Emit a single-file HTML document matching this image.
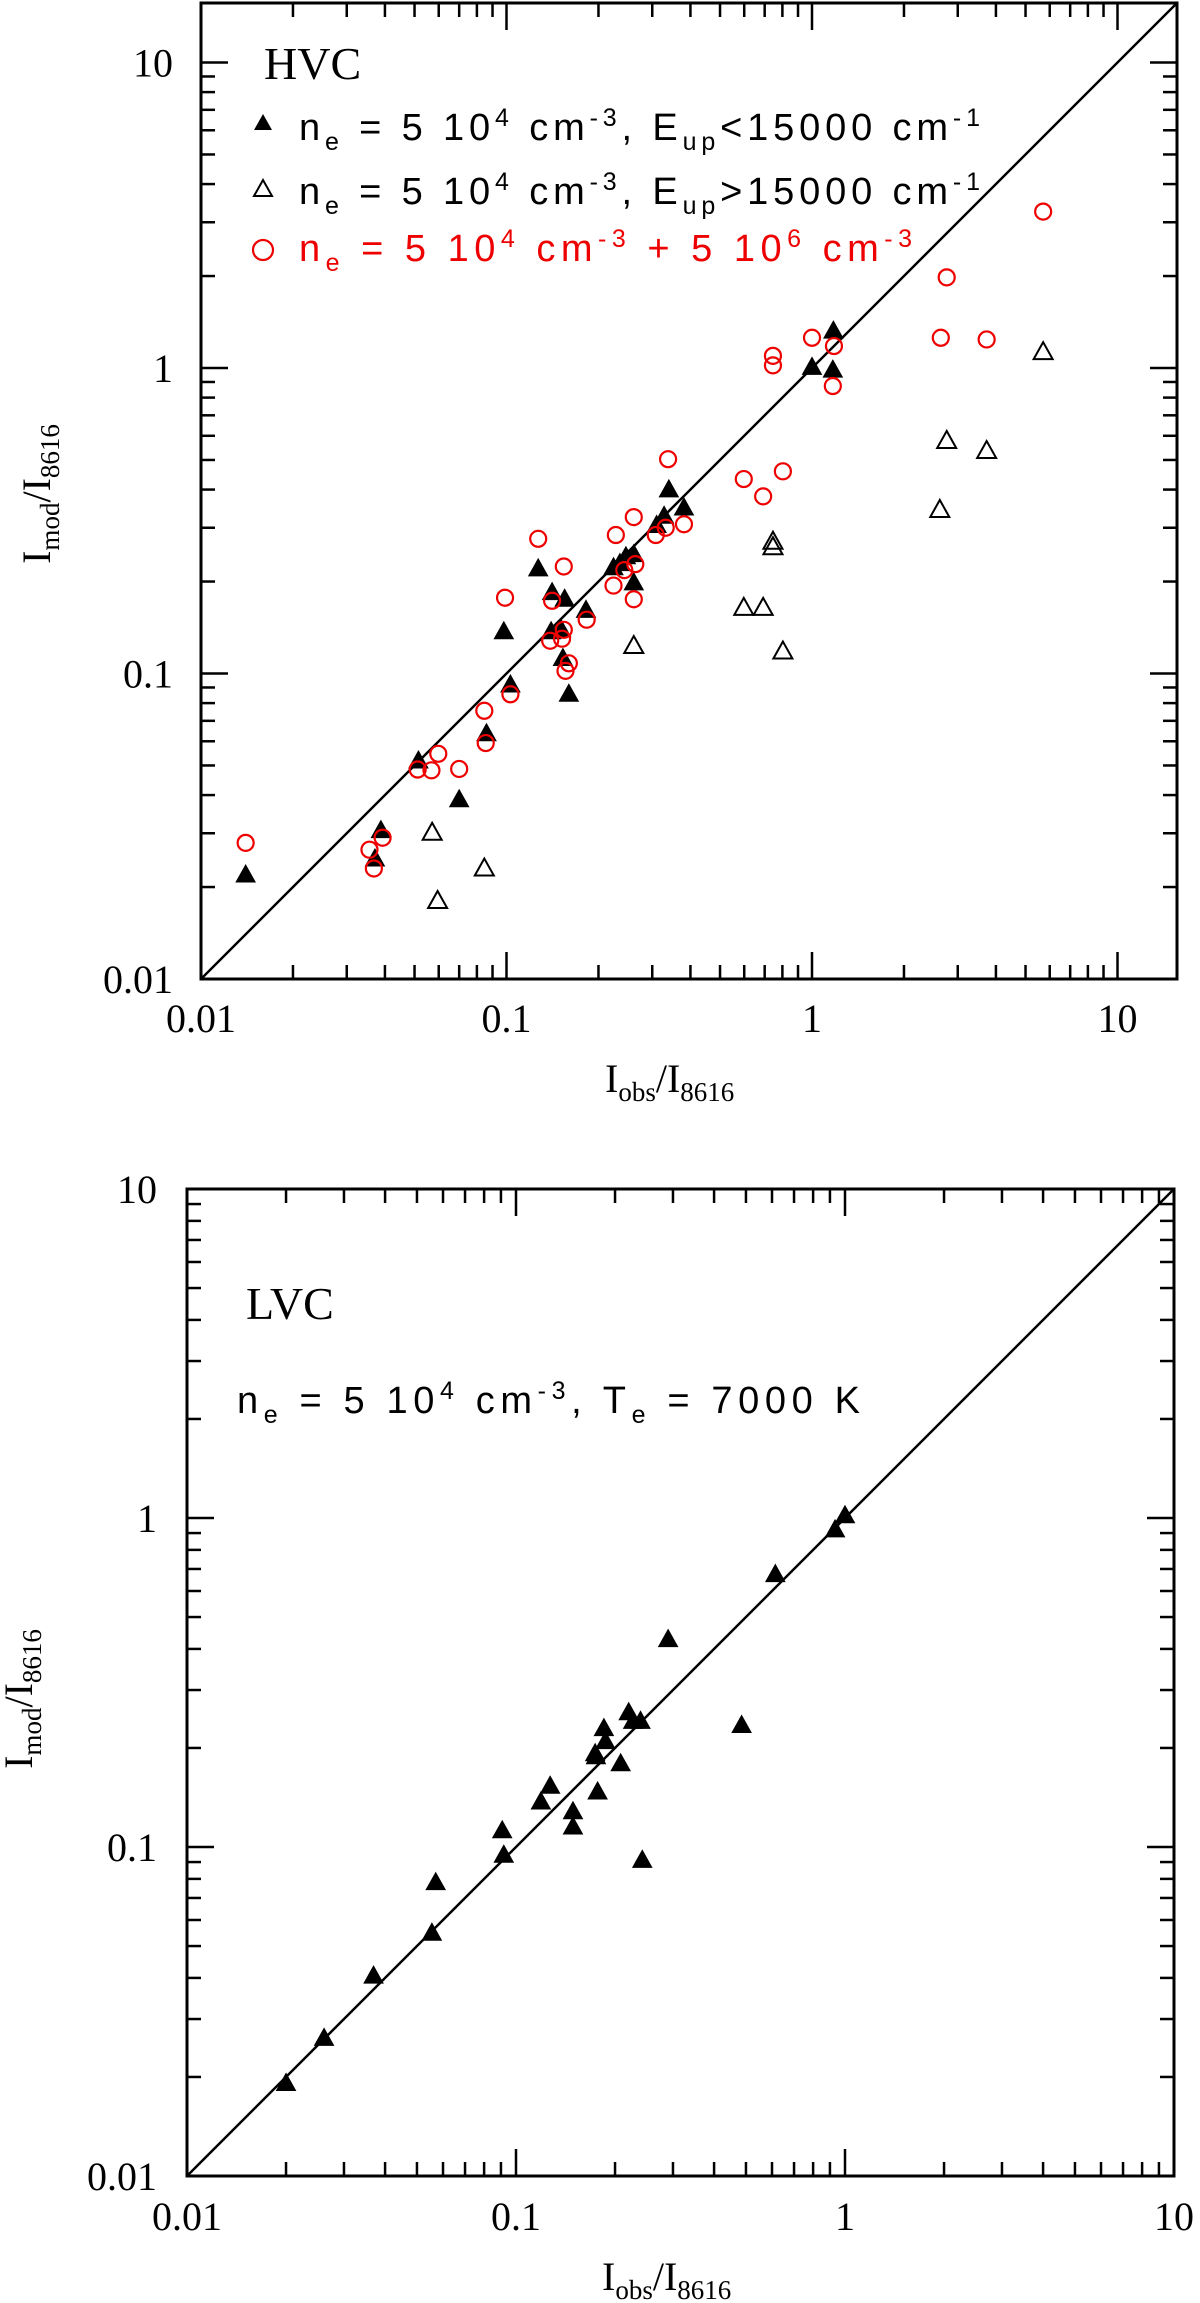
<!DOCTYPE html>
<html><head><meta charset="utf-8"><style>
html,body{margin:0;padding:0;background:#fff;}
svg{display:block;}
text{font-family:"Liberation Serif",serif;fill:#000;}
.leg{font-family:"Liberation Sans",sans-serif;}
</style></head><body>
<svg id="chart" width="1200" height="2303" viewBox="0 0 1200 2303" xmlns="http://www.w3.org/2000/svg">
<g id="top"></g>
<g id="bot"></g>
<text x="264" y="79" font-size="46">HVC</text>
<g class="leg">
<g>
<polygon points="263,114 254,130 272,130" fill="#000"/>
<text class="leg" x="299" y="140" font-size="38" textLength="681" lengthAdjust="spacing">n<tspan font-size="25" dy="10">e</tspan><tspan dy="-10"> = 5 10</tspan><tspan font-size="25" dy="-14">4</tspan><tspan dy="14"> cm</tspan><tspan font-size="25" dy="-14">-3</tspan><tspan dy="14">, E</tspan><tspan font-size="25" dy="10">up</tspan><tspan dy="-10">&lt;15000 cm</tspan><tspan font-size="25" dy="-14">-1</tspan></text>
</g>
<g>
<polygon points="263,180 254,196 272,196" fill="none" stroke="#000" stroke-width="2"/>
<text class="leg" x="299" y="204" font-size="38" textLength="681" lengthAdjust="spacing">n<tspan font-size="25" dy="10">e</tspan><tspan dy="-10"> = 5 10</tspan><tspan font-size="25" dy="-14">4</tspan><tspan dy="14"> cm</tspan><tspan font-size="25" dy="-14">-3</tspan><tspan dy="14">, E</tspan><tspan font-size="25" dy="10">up</tspan><tspan dy="-10">&gt;15000 cm</tspan><tspan font-size="25" dy="-14">-1</tspan></text>
</g>
<g>
<circle cx="263" cy="250" r="10" fill="none" stroke="#e00" stroke-width="2.2"/>
<text class="leg" x="299" y="261" font-size="38" textLength="613" lengthAdjust="spacing" style="fill:#e00">n<tspan font-size="25" dy="10">e</tspan><tspan dy="-10"> = 5 10</tspan><tspan font-size="25" dy="-14">4</tspan><tspan dy="14"> cm</tspan><tspan font-size="25" dy="-14">-3</tspan><tspan dy="14"> + 5 10</tspan><tspan font-size="25" dy="-14">6</tspan><tspan dy="14"> cm</tspan><tspan font-size="25" dy="-14">-3</tspan></text>
</g>
</g>
<text x="605" y="1092" font-size="40">I<tspan font-size="27" dy="9">obs</tspan><tspan dy="-9">/I</tspan><tspan font-size="27" dy="9">8616</tspan></text>
<text transform="translate(50,494) rotate(-90)" text-anchor="middle" font-size="40">I<tspan font-size="27" dy="9">mod</tspan><tspan dy="-9">/I</tspan><tspan font-size="27" dy="9">8616</tspan></text>
<text x="246" y="1319" font-size="46">LVC</text>
<text class="leg" x="237" y="1413" font-size="38" textLength="623" lengthAdjust="spacing">n<tspan font-size="25" dy="10">e</tspan><tspan dy="-10"> = 5 10</tspan><tspan font-size="25" dy="-14">4</tspan><tspan dy="14"> cm</tspan><tspan font-size="25" dy="-14">-3</tspan><tspan dy="14">, T</tspan><tspan font-size="25" dy="10">e</tspan><tspan dy="-10"> = 7000 K</tspan></text>
<text x="602" y="2290" font-size="40">I<tspan font-size="27" dy="9">obs</tspan><tspan dy="-9">/I</tspan><tspan font-size="27" dy="9">8616</tspan></text>
<text transform="translate(32,1699) rotate(-90)" text-anchor="middle" font-size="40">I<tspan font-size="27" dy="9">mod</tspan><tspan dy="-9">/I</tspan><tspan font-size="27" dy="9">8616</tspan></text>
</svg>
<script>
const hvcFilledX=[0.0140,0.0371,0.0388,0.0515,0.070,0.086,0.098,0.103,0.127,0.141,0.140,0.151,0.155,0.153,0.160,0.182,0.224,0.235,0.246,0.261,0.261,0.310,0.328,0.340,0.381,1.0,1.175,1.17];
const hvcFilledY=[0.0219,0.0247,0.0306,0.0517,0.0386,0.0635,0.137,0.0917,0.220,0.184,0.137,0.139,0.175,0.112,0.0855,0.161,0.222,0.229,0.241,0.245,0.198,0.305,0.327,0.399,0.348,1.005,1.32,0.984];
const hvcOpenX=[0.0571,0.0595,0.0846,0.261,0.598,0.692,0.745,0.745,0.803,2.62,2.76,3.73,5.71];
const hvcOpenY=[0.0301,0.0180,0.0230,0.123,0.164,0.164,0.259,0.270,0.118,0.343,0.577,0.535,1.127];
const hvcRedX=[0.0140,0.0356,0.0368,0.0393,0.0512,0.0568,0.0598,0.0700,0.0846,0.0855,0.0989,0.103,0.127,0.139,0.141,0.152,0.154,0.154,0.156,0.160,0.183,0.228,0.224,0.243,0.261,0.261,0.264,0.308,0.332,0.338,0.381,0.598,0.692,0.745,0.745,0.803,1.0,1.17,1.18,2.64,2.76,3.73,5.71];
const hvcRedY=[0.0279,0.0265,0.0230,0.0290,0.0485,0.0482,0.0546,0.0487,0.0755,0.0592,0.177,0.0855,0.276,0.128,0.173,0.130,0.224,0.139,0.102,0.108,0.150,0.284,0.194,0.218,0.325,0.175,0.228,0.284,0.300,0.503,0.308,0.433,0.380,1.096,1.02,0.459,1.256,0.873,1.18,1.256,1.98,1.24,3.25];
const lvcX=[0.0200,0.0261,0.0369,0.0555,0.0570,0.0908,0.0918,0.119,0.127,0.149,0.149,0.174,0.177,0.185,0.187,0.175,0.208,0.220,0.227,0.239,0.242,0.290,0.485,0.614,0.933,1.0];
const lvcY=[0.0191,0.0262,0.0405,0.0547,0.0779,0.112,0.0944,0.137,0.153,0.128,0.115,0.192,0.147,0.229,0.209,0.188,0.179,0.256,0.241,0.241,0.0911,0.427,0.234,0.673,0.920,1.016];
const xTickLabels=["0.01","0.1","1","10"];
const yTickLabels=["0.01","0.1","1","10"];

const NS="http://www.w3.org/2000/svg";
function mk(parent,tag,attrs){const e=document.createElementNS(NS,tag);for(const k in attrs)e.setAttribute(k,attrs[k]);parent.appendChild(e);return e;}

function panel(g,P){
  const sx=v=>P.left+(Math.log10(v)+2)*P.dec;
  const sy=v=>P.bottom-(Math.log10(v)+2)*P.dec;
  const right=P.left+P.w, top=P.bottom-P.w;
  const maxLog=-2+P.w/P.dec;
  const d=mk(g,'line',{x1:P.left,y1:P.bottom,x2:right,y2:top,stroke:'#000','stroke-width':2.5});
  
  
  for(let dec=-2;dec<=1;dec++){
    for(let m=1;m<=9;m++){
      const lv=dec+Math.log10(m); if(lv>maxLog+1e-6) continue;
      const len=m===1?27:14; const off=(lv+2)*P.dec;
      const x=P.left+off, y=P.bottom-off;
      mk(g,'line',{x1:x,y1:P.bottom,x2:x,y2:P.bottom-len,stroke:'#000','stroke-width':2.5});
      mk(g,'line',{x1:x,y1:top,x2:x,y2:top+len,stroke:'#000','stroke-width':2.5});
      mk(g,'line',{x1:P.left,y1:y,x2:P.left+len,y2:y,stroke:'#000','stroke-width':2.5});
      mk(g,'line',{x1:right,y1:y,x2:right-len,y2:y,stroke:'#000','stroke-width':2.5});
    }
  }
  xTickLabels.forEach(s=>{
    const t=mk(g,'text',{x:sx(+s),y:P.bottom+P.xlabOff,'text-anchor':'middle','font-size':P.fs});
    
    
    t.textContent=s;
  });
  yTickLabels.forEach(s=>{
    const t=mk(g,'text',{x:P.left-P.ylabGap,y:sy(+s)+14,'text-anchor':'end','font-size':P.fs});
    
    
    t.textContent=s;
  });
  const f=mk(g,'rect',{x:P.left,y:top,width:P.w,height:P.w,fill:'none',stroke:'#000','stroke-width':3});
  
  
  return {sx,sy};
}
function tri(g,x,y,filled){
  return mk(g,'polygon',{points:`${x},${y-10} ${x-9.5},${y+7} ${x+9.5},${y+7}`,fill:filled?'#000':'none',stroke:'#000','stroke-width':filled?1:2});
}
const T=document.getElementById('top'), B=document.getElementById('bot');
const a=panel(T,{left:201,bottom:979,w:976,dec:305.5,fs:40,xlabOff:53,ylabGap:28});
hvcFilledX.forEach((v,i)=>{const p=tri(T,a.sx(v),a.sy(hvcFilledY[i]),true);
  
  });
hvcOpenX.forEach((v,i)=>{const p=tri(T,a.sx(v),a.sy(hvcOpenY[i]),false);
  
  });
hvcRedX.forEach((v,i)=>{const c=mk(T,'circle',{cx:a.sx(v),cy:a.sy(hvcRedY[i]),r:8,fill:'none',stroke:'#e00','stroke-width':2.2});
  
  });
const b=panel(B,{left:187,bottom:2176,w:987,dec:329,fs:40,xlabOff:54,ylabGap:30});
lvcX.forEach((v,i)=>{const p=tri(B,b.sx(v),b.sy(lvcY[i]),true);
  
  });
</script>
</body></html>
